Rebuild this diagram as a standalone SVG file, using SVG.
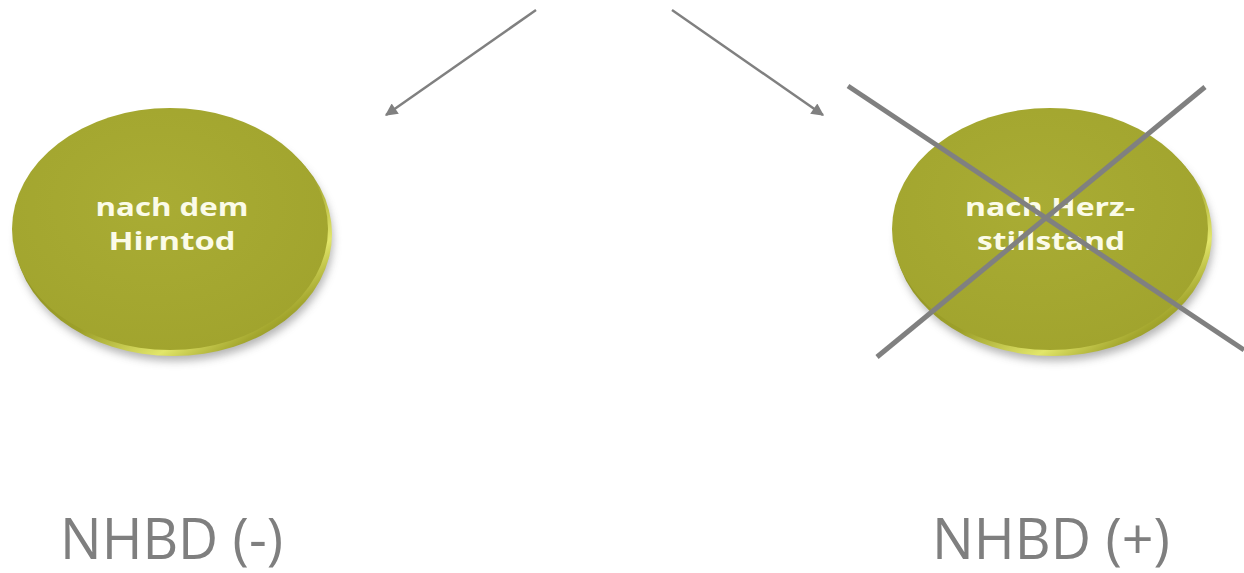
<svg xmlns="http://www.w3.org/2000/svg" width="1244" height="573" viewBox="0 0 1244 573">
<style>
.face{fill:url(#faceGrad)}
.rim{fill:url(#rimGrad)}
.shadow{fill:#6b6b6b;opacity:0.5;filter:url(#blur)}
.disc-text{font-family:"Open Sans","Noto Sans",sans-serif;font-weight:700;font-size:25px;fill:#fbfbe8;text-anchor:middle}
.label{font-family:"Open Sans","Noto Sans",sans-serif;font-weight:400;font-size:56px;fill:#7f7f7f}
.conn{stroke:#808080;stroke-width:2.5;fill:none;marker-end:url(#arrow)}
.cross{stroke:#808080;stroke-width:5;stroke-linecap:butt}
</style>
<defs>
<marker id="arrow" viewBox="0 0 10 10" refX="9" refY="5" markerWidth="6" markerHeight="5" orient="auto" markerUnits="strokeWidth">
<path d="M0,0 L10,5 L0,10 z" fill="#808080"/>
</marker>
<radialGradient id="faceGrad" cx="0.45" cy="0.4" r="0.7">
<stop offset="0" stop-color="#a9ac34"/>
<stop offset="1" stop-color="#a0a32d"/>
</radialGradient>
<linearGradient id="rimGrad" x1="0.2" y1="0.2" x2="0.9" y2="1">
<stop offset="0" stop-color="#8c8e20"/>
<stop offset="0.5" stop-color="#9da02a"/>
<stop offset="0.72" stop-color="#e2e66a"/>
<stop offset="0.85" stop-color="#a4a72e"/>
<stop offset="1" stop-color="#6f7115"/>
</linearGradient>
<filter id="blur" x="-20%" y="-20%" width="140%" height="140%">
<feGaussianBlur stdDeviation="4"/>
</filter>
</defs>
<g id="connectors">
<line class="conn" x1="536" y1="10" x2="386" y2="115"/>
<line class="conn" x1="672" y1="10" x2="823" y2="115"/>
</g>
<g id="node-hirntod">
<ellipse class="shadow" cx="175" cy="240" rx="158" ry="121"/>
<ellipse class="rim" cx="173" cy="234" rx="159" ry="122"/>
<ellipse class="face" cx="170" cy="229" rx="158" ry="121"/>
<text class="disc-text" x="172" y="216" textLength="153" lengthAdjust="spacingAndGlyphs">nach dem</text>
<text class="disc-text" x="172" y="250" textLength="127" lengthAdjust="spacingAndGlyphs">Hirntod</text>
</g>
<g id="node-herzstillstand">
<ellipse class="shadow" cx="1055" cy="240" rx="158" ry="121"/>
<ellipse class="rim" cx="1053" cy="234" rx="159" ry="122"/>
<ellipse class="face" cx="1050" cy="229" rx="158" ry="121"/>
<text class="disc-text" x="1050" y="216" textLength="170" lengthAdjust="spacingAndGlyphs">nach Herz-</text>
<text class="disc-text" x="1051" y="250" textLength="148" lengthAdjust="spacingAndGlyphs">stillstand</text>
</g>
<g id="cross">
<line class="cross" x1="848" y1="86" x2="1244" y2="350"/>
<line class="cross" x1="1205" y1="87" x2="877" y2="357"/>
</g>
<g id="label-minus">
<text class="label" x="60" y="559" textLength="223" lengthAdjust="spacingAndGlyphs">NHBD (-)</text>
</g>
<g id="label-plus">
<text class="label" x="932" y="559" textLength="238" lengthAdjust="spacingAndGlyphs">NHBD (+)</text>
</g>
</svg>
